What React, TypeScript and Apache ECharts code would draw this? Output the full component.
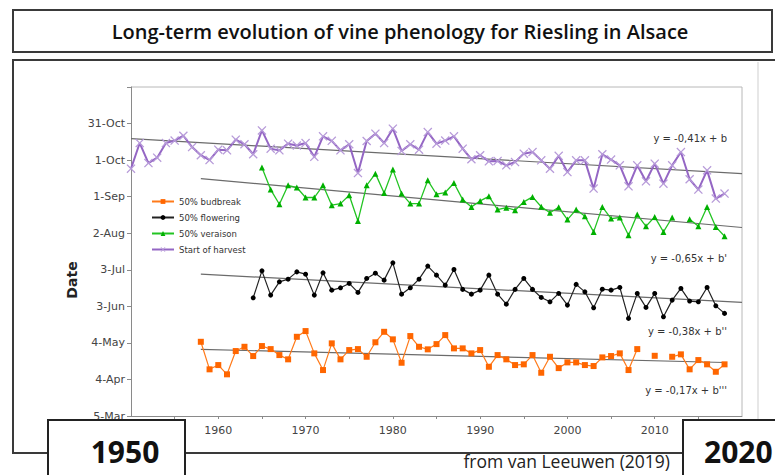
import React, { useEffect, useRef } from "react";
import * as echarts from "echarts";

// Day offsets from 5-Mar (0 = 5-Mar, 30 = 4-Apr, ...)
const yTickLabels = ["5-Mar", "4-Apr", "4-May", "3-Jun", "3-Jul", "2-Aug", "1-Sep", "1-Oct", "31-Oct", ""];
const xLabelYears = [1960, 1970, 1980, 1990, 2000, 2010];

const harvestStart = 1950;
const harvest = [
  203, 224, 207.6, 212, 224, 226, 230, 220.7, 214, 210,
  218.6, 218, 226.8, 223, 214.8, 234.4, 219.4, 218, 223.5, 222,
  224, 212.7, 229.5, 225.8, 218, 223, 199.4, 225.7, 231.7, 224,
  235.8, 217.5, 223, 218.6, 233, 223.5, 226, 229.5, 219.4, 210.7,
  214, 209, 209.3, 205.7, 208.4, 215.3, 216.6, 209.8, 202.9, 213.5,
  200.2, 209.8, 209.8, 186.6, 214.8, 210.4, 205.7, 188.5, 205.7, 192.6,
  207.1, 190.7, 205.7, 216.6, 194.3, 185.8, 201.6, 178.4, 182.5,
];

const veraisonStart = 1965;
const veraison = [
  203.9, 185.8, 173.8, 189.3, 187.5,
  179.3, 179.3, 189.3, 173, 174.3, 181.1, 160.1, 189.3, 198.9, 183,
  202.2, 182.5, 174.3, 174.3, 193.4, 182, 183.4, 191.2, 177.6, 171.6,
  176.5, 180.3, 169.4, 171, 168.9, 175.7, 179.8, 171.7, 166.8, 171.3,
  161.2, 169.4, 163.9, 151.1, 171.6, 162, 162.9, 148.4, 165.3, 155.7,
  163.4, 151.1, 162.9, null, 161.5, 155.7, 171.6, 155.2, 147.5,
];

const floweringStart = 1964;
const flowering = [
  97, 119.1, 99.2, 110.1, 112.3, 118.3,
  116.4, 99.2, 117.5, 103.3, 105.2, 108.8, 101.4, 112.9, 117.2, 111.5,
  125.7, 100, 105.2, 112.3, 123, 115.6, 107.4, 120.2, 103.9, 100,
  103.3, 115.6, 100, 91.8, 103.9, 112.9, 103.9, 97.3, 93.7, 100.6,
  91, 108, 101.9, 88.8, 104.1, 103.3, 105.5, 80.1, 100.6, 89.1,
  100.6, 81.4, 95.1, 104.7, 94.3, 93.7, 105.5, 90.4, 84.2,
];

const budbreakStart = 1958;
const budbreak = [
  60.9, 38.3,
  41.8, 34.2, 53.3, 56.8, 49.2, 57.4, 54.9, 50, 46.5, 65,
  69.7, 51.4, 37.7, 59.6, 46.5, 54.1, 54.9, 48.6, 60.5, 69.1,
  62.9, 43.7, 65.6, 56.8, 54.7, 59, 66.4, 55.5, 55.5, 51.4,
  54.1, 40.4, 50, 46.5, 41.8, 42.4, 50, 35.5, 48.6, 39.3,
  44, 44, 41.8, 41, 48.1, 49.2, 51.4, 37.7, 54.9, null,
  49.4, null, 48.6, 50.6, 38.3, 45.9, 42.4, 36.3, 42.4,
];

const harvestTrend = [[1950, 227.6], [2020, 198.9]];
const veraisonTrend = [[1958, 194.8], [2020, 154.7]];
const floweringTrend = [[1958, 116.4], [2020, 93.2]];
const budbreakTrend = [[1958, 54.7], [2018, 43.9]];

const seriesNames = ["50% budbreak", "50% flowering", "50% veraison", "Start of harvest"];
const equations = ["y = -0,41x + b", "y = -0,65x + b'", "y = -0,38x + b''", "y = -0,17x + b'''"];

const toPairs = (start: number, vals: (number | null)[]) => vals.map((v, i) => [start + i, v]);

const xShape = "path://M0,1L1,0L5,4L9,0L10,1L6,5L10,9L9,10L5,6L1,10L0,9L4,5Z";

export default function App() {
  const ref = useRef<HTMLDivElement>(null);
  useEffect(() => {
    if (!ref.current) return;
    const chart = echarts.init(ref.current, null, { renderer: "svg" });
    const font = "DejaVu Sans";
    const trendStyle = { color: "#6b6b6b", width: 1.2 };
    const trend = (data: number[][]) => ({
      type: "line",
      data,
      showSymbol: false,
      symbol: "none",
      lineStyle: trendStyle,
      silent: true,
      z: 1,
    });
    chart.setOption({
      animation: false,
      backgroundColor: "#ffffff",
      grid: { left: 131, top: 87, width: 611, height: 329 },
      legend: {
        data: seriesNames,
        orient: "vertical",
        left: 146,
        top: 192,
        itemGap: 7,
        itemWidth: 22,
        itemHeight: 6,
        textStyle: { fontFamily: font, fontSize: 8.5, color: "#333" },
      },
      xAxis: {
        type: "value",
        min: 1950,
        max: 2020,
        interval: 5,
        axisLine: { lineStyle: { color: "#8a8a8a", width: 1 } },
        axisTick: { length: 3, lineStyle: { color: "#8a8a8a" } },
        splitLine: { show: false },
        axisLabel: {
          fontFamily: font,
          fontSize: 11,
          color: "#444",
          margin: 9,
          showMinLabel: false,
          showMaxLabel: false,
          formatter: (v: number) => (xLabelYears.includes(v) ? String(v) : ""),
        },
      },
      yAxis: {
        type: "value",
        min: 0,
        max: 270,
        interval: 30,
        axisLine: { show: true, lineStyle: { color: "#8a8a8a", width: 1 } },
        axisTick: { show: true, length: 4, lineStyle: { color: "#8a8a8a" } },
        splitLine: { show: false },
        axisLabel: {
          fontFamily: font,
          fontSize: 11,
          color: "#444",
          margin: 6,
          formatter: (v: number) => yTickLabels[Math.round(v / 30)] ?? "",
        },
      },
      graphic: [
        // plot frame (top & right)
        {
          type: "polyline",
          z: 0,
          silent: true,
          shape: { points: [[131, 87], [742, 87], [742, 416]] },
          style: { stroke: "#b8b8b8", lineWidth: 1, fill: null },
        },
        // edge of the pasted chart picture
        {
          type: "line",
          z: 0,
          silent: true,
          shape: { x1: 758, y1: 62, x2: 758, y2: 420 },
          style: { stroke: "#cfcfcf", lineWidth: 1 },
        },
        // title box
        {
          type: "rect",
          z: 100,
          shape: { x: 13, y: 10, width: 759, height: 42 },
          style: { fill: "#fff", stroke: "#3a3a3a", lineWidth: 2 },
        },
        {
          type: "text",
          z: 101,
          x: 400,
          y: 31,
          style: {
            text: "Long-term evolution of vine phenology for Riesling in Alsace",
            font: "600 20px 'Open Sans'",
            fill: "#111",
            textAlign: "center",
            textVerticalAlign: "middle",
          },
        },
        // main box
        {
          type: "polyline",
          z: 100,
          shape: { points: [[790, 60], [13, 60], [13, 453], [790, 453]] },
          style: { stroke: "#3a3a3a", lineWidth: 2, fill: null },
        },
        // Date label
        {
          type: "text",
          z: 101,
          x: 72,
          y: 280,
          rotation: Math.PI / 2,
          style: {
            text: "Date",
            font: "bold 14px 'DejaVu Sans'",
            fill: "#222",
            textAlign: "center",
            textVerticalAlign: "middle",
          },
        },
        ...equations.map((t, i) => ({
          type: "text",
          z: 101,
          x: 727,
          y: [138, 258, 331, 390][i],
          style: {
            text: t,
            font: "10px 'DejaVu Sans'",
            fill: "#333",
            textAlign: "right",
            textVerticalAlign: "middle",
          },
        })),
        // 1950 box
        {
          type: "rect",
          z: 100,
          shape: { x: 48, y: 420, width: 137, height: 70 },
          style: { fill: "#fff", stroke: "#222", lineWidth: 2 },
        },
        {
          type: "text",
          z: 101,
          x: 125,
          y: 451,
          style: {
            text: "1950",
            font: "bold 30px 'Open Sans'",
            fill: "#111",
            textAlign: "center",
            textVerticalAlign: "middle",
          },
        },
        // 2020 box
        {
          type: "rect",
          z: 100,
          shape: { x: 683, y: 420, width: 120, height: 70 },
          style: { fill: "#fff", stroke: "#222", lineWidth: 2 },
        },
        {
          type: "text",
          z: 101,
          x: 704,
          y: 451,
          style: {
            text: "2020",
            font: "bold 30px 'Open Sans'",
            fill: "#111",
            textAlign: "left",
            textVerticalAlign: "middle",
          },
        },
        {
          type: "text",
          z: 101,
          x: 670,
          y: 461,
          style: {
            text: "from van Leeuwen (2019)",
            font: "17.5px 'Open Sans'",
            fill: "#222",
            textAlign: "right",
            textVerticalAlign: "middle",
          },
        },
      ],
      series: [
        trend(harvestTrend),
        trend(veraisonTrend),
        trend(floweringTrend),
        trend(budbreakTrend),
        {
          name: seriesNames[0],
          type: "line",
          data: toPairs(budbreakStart, budbreak),
          connectNulls: false,
          symbol: "rect",
          symbolSize: 6,
          lineStyle: { color: "#ff7a1a", width: 1.2 },
          itemStyle: { color: "#ff6600" },
          z: 3,
        },
        {
          name: seriesNames[1],
          type: "line",
          data: toPairs(floweringStart, flowering),
          connectNulls: false,
          symbol: "circle",
          symbolSize: 5,
          lineStyle: { color: "#222", width: 1.2 },
          itemStyle: { color: "#000" },
          z: 3,
        },
        {
          name: seriesNames[2],
          type: "line",
          data: toPairs(veraisonStart, veraison),
          connectNulls: false,
          symbol: "triangle",
          symbolSize: 6,
          lineStyle: { color: "#22c422", width: 1.3 },
          itemStyle: { color: "#00b000" },
          z: 3,
        },
        {
          name: seriesNames[3],
          type: "line",
          data: toPairs(harvestStart, harvest),
          connectNulls: false,
          symbol: xShape,
          symbolSize: 9,
          lineStyle: { color: "#9466c4", width: 2 },
          itemStyle: { color: "#b79bd9" },
          z: 3,
        },
      ],
    });
    return () => chart.dispose();
  }, []);
  return (
    <div
      ref={ref}
      style={{ position: "fixed", left: 0, top: 0, width: 775, height: 475, background: "#fff" }}
    />
  );
}
